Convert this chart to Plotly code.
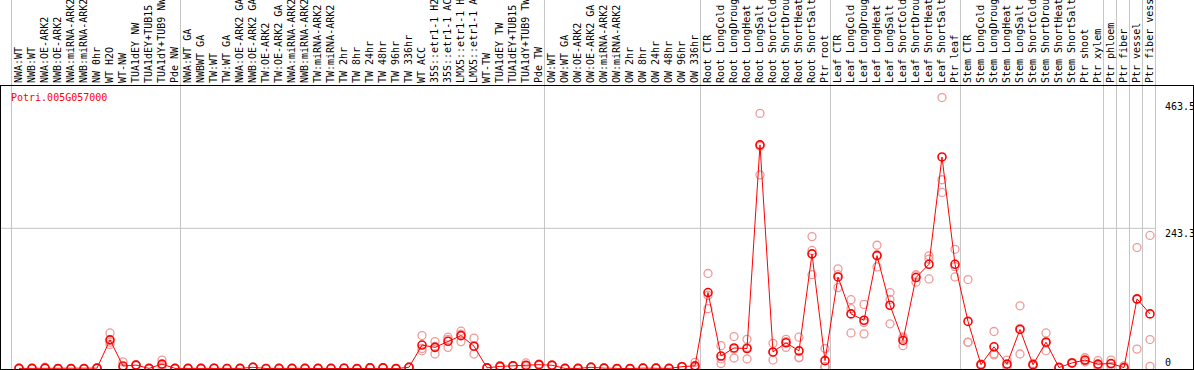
import plotly.graph_objects as go

gene_name = "Potri.005G057000"

categories = [
    "NWA:WT", "NWB:WT", "NWA:OE-ARK2", "NWB:OE-ARK2", "NWA:miRNA-ARK2", "NWB:miRNA-ARK2",
    "NW 0hr", "WT H2O", "WT-NW", "TUA1dEY NW", "TUA1dEY+TUB15", "TUA1dY+TUB9 NW", "Pde NW",
    "NWA:WT GA", "NWBWT GA", "TW:WT", "TW:WT GA", "NWA:OE-ARK2 GA", "NWB:OE-ARK2 GA",
    "TW:OE-ARK2", "TW:OE-ARK2 GA", "NWA:miRNA-ARK2", "NWB:miRNA-ARK2", "TW:miRNA-ARK2",
    "TW:miRNA-ARK2", "TW 2hr", "TW 8hr", "TW 24hr", "TW 48hr", "TW 96hr", "TW 336hr",
    "WT ACC", "35S::etr1-1 H2", "35S::etr1-1 AC", "LMX5::etr1-1 H", "LMX5::etr1-1 A",
    "WT-TW", "TUA1dEY TW", "TUA1dEY+TUB15", "TUA1dY+TUB9 TW", "Pde TW",
    "OW:WT", "OW:WT GA", "OW:OE-ARK2", "OW:OE-ARK2 GA", "OW:miRNA-ARK2", "OW:miRNA-ARK2",
    "OW 2hr", "OW 8hr", "OW 24hr", "OW 48hr", "OW 96hr", "OW 336hr",
    "Root CTR", "Root LongCold", "Root LongDroug", "Root LongHeat", "Root LongSalt",
    "Root ShortCold", "Root ShortDrou", "Root ShortHeat", "Root ShortSalt", "Ptr root",
    "Leaf CTR", "Leaf LongCold", "Leaf LongDroug", "Leaf LongHeat", "Leaf LongSalt",
    "Leaf ShortCold", "Leaf ShortDrou", "Leaf ShortHeat", "Leaf ShortSalt", "Ptr leaf",
    "Stem CTR", "Stem LongCold", "Stem LongDroug", "Stem LongHeat", "Stem LongSalt",
    "Stem ShortCold", "Stem ShortDrou", "Stem ShortHeat", "Stem ShortSalt", "Ptr shoot",
    "Ptr xylem", "Ptr phloem", "Ptr fiber", "Ptr vessel", "Ptr fiber vess",
]

mean_values = [
    # 0-12
    0.5, 0.5, 1.0, 0.2, 0.2, 0.2, 1.0, 50, 4.7, 6.3, 0.5, 8, 0.5,
    # 13-30
    0.5, 0.5, 0.8, 0.3, 0.5, 2.5, 0.3, 0.5, 0.5, 0.5, 0.5, 0.5, 0.8, 0.2, 1.5, 1.5, 0.2, 2.5,
    # 31-40
    41, 37, 47.5, 57.3, 39, 1.5, 4, 5, 6, 7,
    # 41-52
    6, 0.5, 0.5, 2.5, 1, 0.2, 0.2, 1, 1, 0.5, 3.5, 5,
    # 53-62
    132, 22, 36, 35, 388, 29, 45, 31, 199, 14,
    # 63-72
    159, 95, 84, 196, 110, 49, 158, 181, 367, 181,
    # 73-83
    82, 7, 38, 8, 68, 7, 46, 2, 10, 15, 8,
    # 84-87
    9, 2, 121, 95,
]

replicate_values = [
    # 0-12
    [0.3, 0.5, 0.8], [0.3, 0.6, 0.7], [0.5, 1.0, 2.5], [0.1, 0.2, 0.3], [0.1, 0.2, 0.3],
    [0.1, 0.2, 0.3], [0.5, 1.0, 1.5], [62, 46, 42], [12, 1, 1], [7, 6, 6], [0.3, 0.5, 0.7],
    [15, 6, 3], [0.3, 0.5, 0.7],
    # 13-30
    [0.3, 0.5, 0.7], [0.3, 0.5, 0.7], [0.5, 0.8, 1.1], [0.2, 0.3, 0.4], [0.3, 0.5, 0.7],
    [2, 2.5, 3], [0.2, 0.3, 0.4], [0.3, 0.5, 0.7], [0.3, 0.5, 0.7], [0.3, 0.5, 0.7],
    [0.3, 0.5, 0.7], [0.3, 0.5, 0.7], [0.5, 0.8, 1.1], [0.1, 0.2, 0.3], [1, 1.5, 2],
    [1, 1.5, 2], [0.1, 0.2, 0.3], [2, 2.5, 3],
    # 31-40
    [57.5, 31, 35], [47, 25.5, 38.5], [54.6, 37, 51], [65, 47, 60], [53, 25.5, 38.5],
    [1, 1.5, 2], [5.5, 3, 3.5], [5, 5, 5.5], [10, 4, 4], [8, 7, 6],
    # 41-52
    [7, 5, 6], [0.3, 0.5, 0.7], [0.3, 0.5, 0.7], [2, 2.5, 3], [0.7, 1, 1.3],
    [0.1, 0.2, 0.3], [0.1, 0.2, 0.3], [0.7, 1, 1.3], [0.7, 1, 1.3], [0.3, 0.5, 0.7],
    [3, 3.5, 4], [11, 2, 2],
    # 53-62
    [165, 104, 127], [40, 17, 9], [55.7, 18.6, 34], [51, 16.8, 37], [442.5, 336, 385.5],
    [44, 15, 28], [51, 37, 47], [54.6, 19.7, 19], [229, 163, 205], [35, 3.5, 3.5],
    # 63-72
    [173, 140.6, 163], [119.6, 62, 104], [111.5, 60.4, 80], [214, 176.5, 197.5],
    [132, 77.8, 120], [55, 40, 52], [163, 150, 161], [195.7, 190, 155.6],
    [470, 327.5, 305.5], [207, 177, 159],
    # 73-83
    [154.5, 45.8, 46], [6, 7, 8], [64.5, 24, 26], [15, 5, 4], [109, 25.5, 70],
    [9, 6, 6], [62, 31, 45], [1, 2, 3], [9, 10, 11], [19, 14, 12], [14, 6, 4],
    # 84-87
    [15, 8, 4], [5, 1, 0.5], [210, 34, 120], [231, 50.5, 4],
]

# first category index of each sample group
group_starts = [0, 13, 41, 53, 63, 73, 84, 85, 86, 87]

y_tick_values = [0, 243.3, 463.5]
y_tick_labels = ["0", "243.3", "463.5"]
y_grid_values = [243.3]

FONT = "DejaVu Sans Mono"
RED = "#ff0000"
PINK = "#ef9a9a"
GRID = "#c4c4c4"

n = len(categories)
assert len(mean_values) == n and len(replicate_values) == n
xs = list(range(n))

rep_x, rep_y = [], []
for i, reps in enumerate(replicate_values):
    for v in reps:
        rep_x.append(i)
        rep_y.append(v)

fig = go.Figure()
fig.add_trace(go.Scatter(
    x=rep_x, y=rep_y, mode="markers",
    marker=dict(symbol="circle-open", size=8, color=PINK, line=dict(width=1.3, color=PINK)),
    hoverinfo="skip", showlegend=False,
))
fig.add_trace(go.Scatter(
    x=xs, y=mean_values, mode="lines+markers",
    line=dict(color=RED, width=1),
    marker=dict(symbol="circle-open", size=8, color=RED, line=dict(width=1.6, color=RED)),
    showlegend=False,
))

W, H = 1194, 370
ml, mr, mt, mb = 1, 1, 86, 1
px_per_cat = 13.0
first_px = 19.0
x0 = -(first_px - ml) / px_per_cat
x1 = x0 + (W - ml - mr) / px_per_cat

shapes = []
for s in group_starts + [n]:
    shapes.append(dict(type="line", xref="x", yref="paper", x0=s - 0.58, x1=s - 0.58,
                       y0=0, y1=1.32, line=dict(color=GRID, width=1), layer="below"))
for g in y_grid_values:
    shapes.append(dict(type="line", xref="x", yref="y", x0=x0, x1=n - 0.58, y0=g, y1=g,
                       line=dict(color=GRID, width=1), layer="below"))

annotations = [dict(
    text=gene_name, xref="paper", yref="paper", x=0.007, y=0.961,
    xanchor="left", yanchor="middle", showarrow=False,
    font=dict(family=FONT, size=10, color=RED),
)]
for v, t in zip(y_tick_values, y_tick_labels):
    annotations.append(dict(
        text=t, xref="x", yref="y", x=n, y=v, xanchor="left", yanchor="middle",
        yshift=6 if v == 0 else -5, showarrow=False,
        font=dict(family=FONT, size=10, color="black"),
    ))

fig.update_layout(
    width=W, height=H,
    margin=dict(l=ml, r=mr, t=mt, b=mb, pad=0),
    paper_bgcolor="white", plot_bgcolor="rgba(0,0,0,0)",
    shapes=shapes, annotations=annotations,
    xaxis=dict(
        range=[x0, x1], side="top", tickmode="array", tickvals=xs, ticktext=categories,
        tickangle=-90, tickfont=dict(family=FONT, size=10, color="black"),
        showgrid=False, zeroline=False, ticks="", showline=True, mirror=True,
        linecolor="black", linewidth=1, automargin=False,
    ),
    yaxis=dict(
        range=[-0.5, 490], showgrid=False, zeroline=False, showticklabels=False,
        ticks="", showline=True, mirror=True, linecolor="black", linewidth=1,
        automargin=False,
    ),
)

fig.write_html(
    "out.html",
    config={"displayModeBar": False},
    post_script=(
        "document.body.style.margin='0';document.body.style.padding='0';"
        "document.documentElement.style.overflow='hidden';"
    ),
)
